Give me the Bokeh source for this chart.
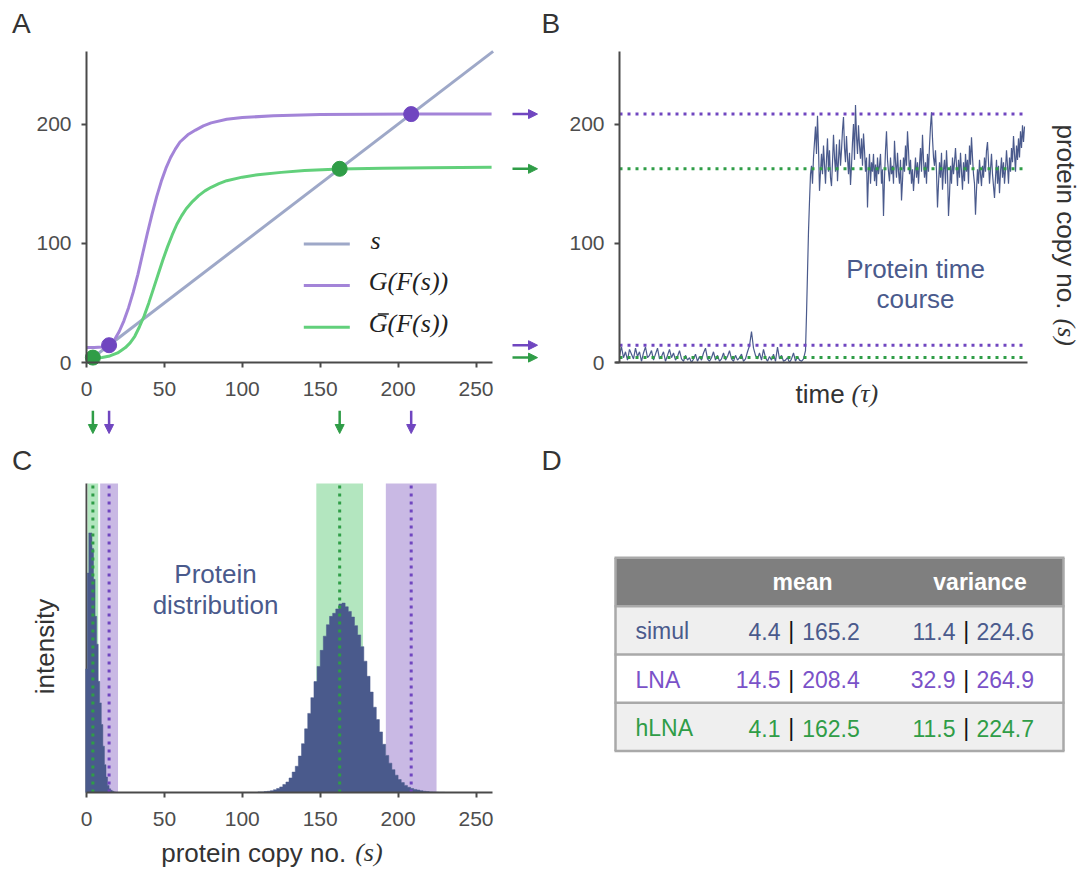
import numpy as np
from bokeh.plotting import figure
from bokeh.models import Range1d, FixedTicker, Label, Arrow, NormalHead, LinearAxis
from bokeh.layouts import row, column
from bokeh.embed import file_html
from bokeh.resources import INLINE

# ---------------- data ----------------
row_names = ["simul", "LNA", "hLNA"]
mean_low = [4.4, 14.5, 4.1]
mean_high = [165.2, 208.4, 162.5]
var_low = [11.4, 32.9, 11.5]
var_high = [224.6, 264.9, 224.7]

x_ticks = [0, 50, 100, 150, 200, 250]
y_ticks = [0, 100, 200]

s_line_s = [0, 261]
s_line_v = [0, 261]

g_s = [0, 5, 10, 14.5, 18, 21, 24, 27, 30, 33, 36, 39, 42, 45, 48, 51, 54, 57, 60, 65,
       70, 75, 80, 90, 100, 120, 150, 180, 210, 260]
g_v = [12.5, 12.5, 13, 15, 19, 26, 35, 46, 59, 74, 91, 108, 124, 139, 152, 163, 172, 179, 185, 191,
       195, 198.5, 201, 204, 205.5, 207, 208, 208.3, 208.4, 208.5]

gbar_s = [0, 5, 10, 15, 20, 25, 28, 31, 34, 37, 40, 43, 46, 49, 52, 55, 58, 61, 64, 68,
          72, 76, 80, 85, 90, 100, 110, 125, 140, 162.5, 190, 220, 260]
gbar_v = [4.0, 3.8, 4.2, 5.5, 8, 12.5, 16.5, 22, 30, 39, 50, 62, 74, 86, 97, 107, 116, 123, 129, 135,
          140, 144, 147, 150, 152.5, 155.5, 157.5, 159.5, 161, 162.3, 163, 163.4, 163.7]

# time course: low state sampled every 2 time units, high state every 1 time unit
trace_low_dt = 2
trace_low = [6, 13, 4, 9, 2, 11, 7, 3, 12, 5,
             9, 1, 8, 13, 4, 6, 10, 2, 7, 12,
             3, 5, 9, 1, 6, 11, 4, 8, 2, 5,
             10, 3, 1, 6, 2, 4, 0, 3, 7, 1,
             5, 2, 8, 12, 3, 1, 4, 9, 2, 6,
             1, 3, 8, 2, 5, 10, 3, 1, 6, 2,
             4, 7, 1, 3, 9, 14, 26, 12, 6, 3,
             8, 2, 11, 4, 1, 5, 2, 7, 1, 13,
             3, 6, 1, 2, 4, 0, 3, 8, 1, 5,
             2, 1, 3]
trace_high_dt = 1
trace_high = [10, 40, 75, 110, 135, 158, 165, 150, 172, 185,
              198, 175, 207, 180, 144, 160, 175, 158, 182, 166,
              150, 171, 188, 160, 178, 155, 148, 168, 191, 172,
              160, 183, 152, 170, 187, 165, 178, 195, 206, 180,
              168, 190, 172, 158, 176, 149, 165, 185, 200, 170,
              216, 190, 175, 199, 182, 171, 188, 165, 192, 178,
              160, 172, 130, 158, 175, 150, 168, 160, 175, 152,
              166, 148, 172, 158, 165, 175, 150, 162, 123, 155,
              178, 194, 170, 160, 152, 172, 158, 165, 150, 186,
              168, 155, 176, 160, 150, 170, 136, 152, 172, 160,
              182, 165, 194, 178, 158, 170, 150, 162, 144, 158,
              172, 155, 168, 150, 166, 180, 160, 191, 170, 155,
              168, 150, 175, 160, 182, 198, 210, 188, 172, 165,
              178, 160, 130, 150, 168, 155, 176, 145, 162, 170,
              150, 178, 160, 123, 140, 165, 150, 172, 158, 168,
              180, 165, 148, 170, 155, 176, 160, 145, 168, 152,
              175, 160, 170, 150, 182, 166, 189, 172, 158, 150,
              124, 145, 162, 150, 170, 158, 148, 165, 155, 172,
              160, 178, 185, 168, 150, 162, 175, 158, 148, 138,
              155, 170, 150, 165, 142, 160, 172, 155, 168, 150,
              162, 178, 165, 150, 172, 160, 180, 168, 190, 175,
              160, 182, 170, 188, 172, 194, 180, 199, 185, 198]

hist_low_start, hist_low_width = -0.5, 1.0
hist_low = [40, 71, 84, 84, 79, 69, 57, 48, 36, 29, 22, 15, 9, 5, 2.3, 1.2, 0.7, 0.4, 0.2]
hist_high_start, hist_high_width = 110.0, 2.0
hist_high = [0.2, 0.2, 0.3, 0.4, 0.6, 0.9, 1.3, 1.8, 2.6, 3.4,
             4.7, 6.6, 8.5, 11.8, 15.8, 20.6, 25.6, 30.7, 35.9, 40.8,
             46.0, 50.6, 54.3, 57.0, 58.0, 59.4, 61.0, 61.3, 60.1, 58.6,
             56.8, 54.0, 51.0, 47.2, 42.5, 37.6, 32.5, 27.6, 23.6, 19.6,
             15.6, 12.0, 9.5, 7.4, 5.6, 4.2, 3.2, 2.3, 1.7, 1.3,
             1.0, 0.8, 0.6, 0.4, 0.3, 0.2, 0.15, 0.1, 0.05, 0.05]
band_top = 100

# ---------------- style ----------------
NAVY = "#4a5a8c"
PURPLE_D = "#7046c0"
GREEN_D = "#2f9d47"
PURPLE_L = "#a384d8"
GREEN_L = "#62d07b"
S_GRAY = "#9ea8c8"
AXC = "#4a4a4a"
TXT = "#333333"
BAND_G = "#b3e6bf"
BAND_P = "#c9b9e4"
SANS = "Liberation Sans"
SERIF = "Liberation Serif"
row_colors = [NAVY, "#7a52c8", GREEN_D]
DOT = "3 5"
BL = 0.38  # baseline correction (fraction of font size)

# pixel -> data helpers (layout positions only)
def ax(px): return (px - 86) / 1.558
def ay(py): return (362 - py) / 1.192
def bx(px): return (px - 619) / 1.0
def cy(py): return (792 - py) / 3.09
def dx(px): return px - 540
def dy(py): return py - 410


def make_lab(p, fx, fy):
    def lab(px, py, text, size, color=TXT, font=SANS, style="normal", align="left", angle=0.0):
        d = BL * size
        if angle == 0:
            py = py - d
        elif angle < 0:
            px = px + d
        else:
            px = px - d
        p.add_layout(Label(x=fx(px), y=fy(py), text=text, text_font=font,
                           text_font_size=f"{size}px", text_color=color,
                           text_font_style=style, text_align=align,
                           text_baseline="alphabetic", angle=angle))
    return lab


def style_axis(a, labels=True):
    a.axis_line_color = AXC
    a.axis_line_width = 2
    a.major_tick_line_color = AXC
    a.major_tick_line_width = 2
    a.major_tick_in = 0
    a.major_tick_out = 5
    a.minor_tick_line_color = None
    a.major_label_text_font = SANS
    a.major_label_text_font_size = "21px"
    a.major_label_text_color = "#4d4d4d"
    if not labels:
        a.major_label_text_color = None


def base_fig(w, h, xr, yr):
    p = figure(frame_width=w, frame_height=h, x_range=xr, y_range=yr, output_backend="svg",
               toolbar_location=None, title=None, min_border=0,
               x_axis_type=None, y_axis_type=None)
    p.outline_line_color = None
    p.grid.visible = False
    p.background_fill_color = "white"
    p.border_fill_color = "white"
    return p


def add_axis(p, side, loc, ticks, bounds, labels=True, standoff=10):
    a = LinearAxis(fixed_location=loc, ticker=FixedTicker(ticks=ticks), bounds=bounds)
    style_axis(a, labels)
    a.major_label_standoff = standoff
    p.add_layout(a, side)
    return a


def step_patch(start, width, heights):
    edges = start + width * np.arange(len(heights) + 1)
    xs = [edges[0]]
    ys = [0.0]
    for i, h in enumerate(heights):
        xs += [edges[i], edges[i + 1]]
        ys += [h, h]
    xs.append(edges[-1]); ys.append(0.0)
    return xs, ys

# ---------------- panel A ----------------
pA = base_fig(540, 410, Range1d(ax(0), ax(540)), Range1d(ay(410), ay(0)))
add_axis(pA, "below", 0, x_ticks, (0, 260.6), standoff=14)
add_axis(pA, "left", 0, y_ticks, (0, ay(51)), standoff=10)
labA = make_lab(pA, ax, ay)

pA.line(s_line_s, s_line_v, line_color=S_GRAY, line_width=3)
pA.line(g_s, g_v, line_color=PURPLE_L, line_width=3, line_join="round")
pA.line(gbar_s, gbar_v, line_color=GREEN_L, line_width=3, line_join="round")
pA.scatter([mean_low[1], mean_high[1]], [mean_low[1], mean_high[1]], size=15,
           fill_color=PURPLE_D, line_color=PURPLE_D)
pA.scatter([mean_low[2], mean_high[2]], [mean_low[2], mean_high[2]], size=15,
           fill_color=GREEN_D, line_color=GREEN_D)

leg_px = [243.6, 285.0, 326.7]
leg_rows = [ay(v) for v in leg_px]
pA.segment(x0=[ax(303.3)] * 3, x1=[ax(349.3)] * 3, y0=leg_rows, y1=leg_rows,
           line_color=[S_GRAY, PURPLE_L, GREEN_L], line_width=3)
labA(370, leg_px[0] + 6, "s", 26, "#222222", SERIF, "italic")
labA(368.3, leg_px[1] + 6, "G(F(s))", 26, "#222222", SERIF, "italic")
labA(368.3, leg_px[2] + 6, "G(F(s))", 26, "#222222", SERIF, "italic")
pA.segment(x0=[ax(377.3)], x1=[ax(388.3)], y0=[ay(313.5)], y1=[ay(313.5)],
           line_color="#222222", line_width=1.5)

for m, c in [(mean_high[1], PURPLE_D), (mean_high[2], GREEN_D),
             (mean_low[1], PURPLE_D), (mean_low[2], GREEN_D)]:
    pA.add_layout(Arrow(end=NormalHead(size=9, fill_color=c, line_color=c),
                        x_start=ax(512), y_start=m, x_end=ax(537), y_end=m,
                        line_color=c, line_width=2.5))
labA(11.5, 33.3, "A", 28, TXT)

# ---------------- panel B ----------------
t_low = trace_low_dt * np.arange(len(trace_low))
t_high = t_low[-1] + trace_low_dt + trace_high_dt * np.arange(len(trace_high))
t_all = np.concatenate([t_low, t_high])
trace = trace_low + trace_high

pB = base_fig(543, 410, Range1d(bx(540), bx(1083)), Range1d(ay(410), ay(0)))
add_axis(pB, "below", 0, [], (bx(615), bx(1027)), labels=False)
add_axis(pB, "left", 0, y_ticks, (0, ay(51)), standoff=10)
labB = make_lab(pB, bx, ay)

pB.line(t_all, trace, line_color=NAVY, line_width=1.2)
t_end = t_all[-1] + 1.5
for m, c in [(mean_high[1], PURPLE_D), (mean_high[2], GREEN_D),
             (mean_low[1], PURPLE_D), (mean_low[2], GREEN_D)]:
    pB.segment(x0=[0], x1=[t_end], y0=[m], y1=[m], line_color=c, line_width=3,
               line_dash=DOT)
labB(915, 278.3, "Protein time", 26, NAVY, align="center")
labB(915, 308.5, "course", 26, NAVY, align="center")
labB(795, 403, "time ", 26, TXT)
labB(851, 403, "(τ)", 26, TXT, SERIF, "italic")
labB(1056, 124, "protein copy no. ", 26, TXT, angle=-np.pi / 2)
labB(1056, 124 + 194, "(s)", 26, TXT, SERIF, "italic", angle=-np.pi / 2)
labB(541, 33.3, "B", 28, TXT)

# ---------------- panel C ----------------
pC = base_fig(540, 463, Range1d(ax(0), ax(540)), Range1d(cy(873), cy(410)))
add_axis(pC, "below", 0, x_ticks, (0, 260.6), standoff=14)
yC = add_axis(pC, "left", 0, [], (0, band_top), labels=False)
yC.level = "underlay"
labC = make_lab(pC, ax, cy)

lnamean = [mean_low[1], mean_high[1]]; lnavar = [var_low[1], var_high[1]]
hmean = [mean_low[2], mean_high[2]]; hvar = [var_low[2], var_high[2]]
pC.quad(left=[m - np.sqrt(v) for m, v in zip(hmean, hvar)],
        right=[m + np.sqrt(v) for m, v in zip(hmean, hvar)],
        bottom=0, top=band_top, fill_color=BAND_G, line_color=None)
pC.quad(left=[m - np.sqrt(v) for m, v in zip(lnamean, lnavar)],
        right=[m + np.sqrt(v) for m, v in zip(lnamean, lnavar)],
        bottom=0, top=band_top, fill_color=BAND_P, line_color=None)

for st, w, hh in [(hist_low_start, hist_low_width, hist_low),
                  (hist_high_start, hist_high_width, hist_high)]:
    xs, ys = step_patch(st, w, hh)
    pC.patch(xs, ys, fill_color=NAVY, line_color=NAVY, line_width=0.5)

pC.segment(x0=hmean, x1=hmean, y0=0, y1=band_top, line_color=GREEN_D, line_width=3,
           line_dash=DOT)
pC.segment(x0=lnamean, x1=lnamean, y0=0, y1=band_top, line_color=PURPLE_D, line_width=3,
           line_dash=DOT)

for m, c in [(mean_low[2], GREEN_D), (mean_low[1], PURPLE_D),
             (mean_high[2], GREEN_D), (mean_high[1], PURPLE_D)]:
    pC.add_layout(Arrow(end=NormalHead(size=9, fill_color=c, line_color=c),
                        x_start=m, y_start=cy(410), x_end=m, y_end=cy(433),
                        line_color=c, line_width=2.5))
labC(215, 583, "Protein", 26, NAVY, align="center")
labC(215, 614, "distribution", 26, NAVY, align="center")
labC(54, 646, "intensity", 26, TXT, align="center", angle=np.pi / 2)
labC(160.7, 862, "protein copy no. ", 26, TXT)
labC(160.7 + 194, 862, "(s)", 26, TXT, SERIF, "italic")
labC(11.5, 471, "C", 28, TXT)

# ---------------- panel D (table) ----------------
pD = base_fig(543, 463, Range1d(0, 543), Range1d(463, 0))
labD = make_lab(pD, dx, dy)
t_left, t_right = dx(615), dx(1063)
t_top = dy(557.3)
head_h, row_h = 48.4, 48.3
row_tops = [t_top + head_h + k * row_h for k in range(len(row_names))]
pD.quad(left=[t_left], right=[t_right], top=[t_top], bottom=[t_top + head_h],
        fill_color="#7f7f7f", line_color=None)
pD.quad(left=t_left, right=t_right, top=row_tops, bottom=[r + row_h for r in row_tops],
        fill_color=["#efefef", "#ffffff", "#efefef"], line_color=None)
h_lines = [t_top] + row_tops + [row_tops[-1] + row_h]
pD.segment(x0=t_left - 1, x1=t_right + 1, y0=h_lines, y1=h_lines,
           line_color="#a9a9a9", line_width=2.5)
pD.segment(x0=[t_left, t_right], x1=[t_left, t_right], y0=t_top, y1=h_lines[-1],
           line_color="#a9a9a9", line_width=2.5)

labD(802, 590.5, "mean", 23, "white", style="bold", align="center")
labD(979.5, 590.5, "variance", 23, "white", style="bold", align="center")
for k, name in enumerate(row_names):
    yb = 557.3 + head_h + k * row_h + 34
    c = row_colors[k]
    labD(635, yb, name, 23, c)
    labD(780, yb, f"{mean_low[k]:.1f}", 23, c, align="right")
    labD(790.7, yb, "|", 23, "#111111", align="center")
    labD(801.7, yb, f"{mean_high[k]:.1f}", 23, c)
    labD(955, yb, f"{var_low[k]:.1f}", 23, c, align="right")
    labD(965.7, yb, "|", 23, "#111111", align="center")
    labD(976, yb, f"{var_high[k]:.1f}", 23, c)
labD(541, 471, "D", 28, TXT)

layout = column(row(pA, pB), row(pC, pD))
open("out.html", "w").write(file_html(layout, INLINE))
